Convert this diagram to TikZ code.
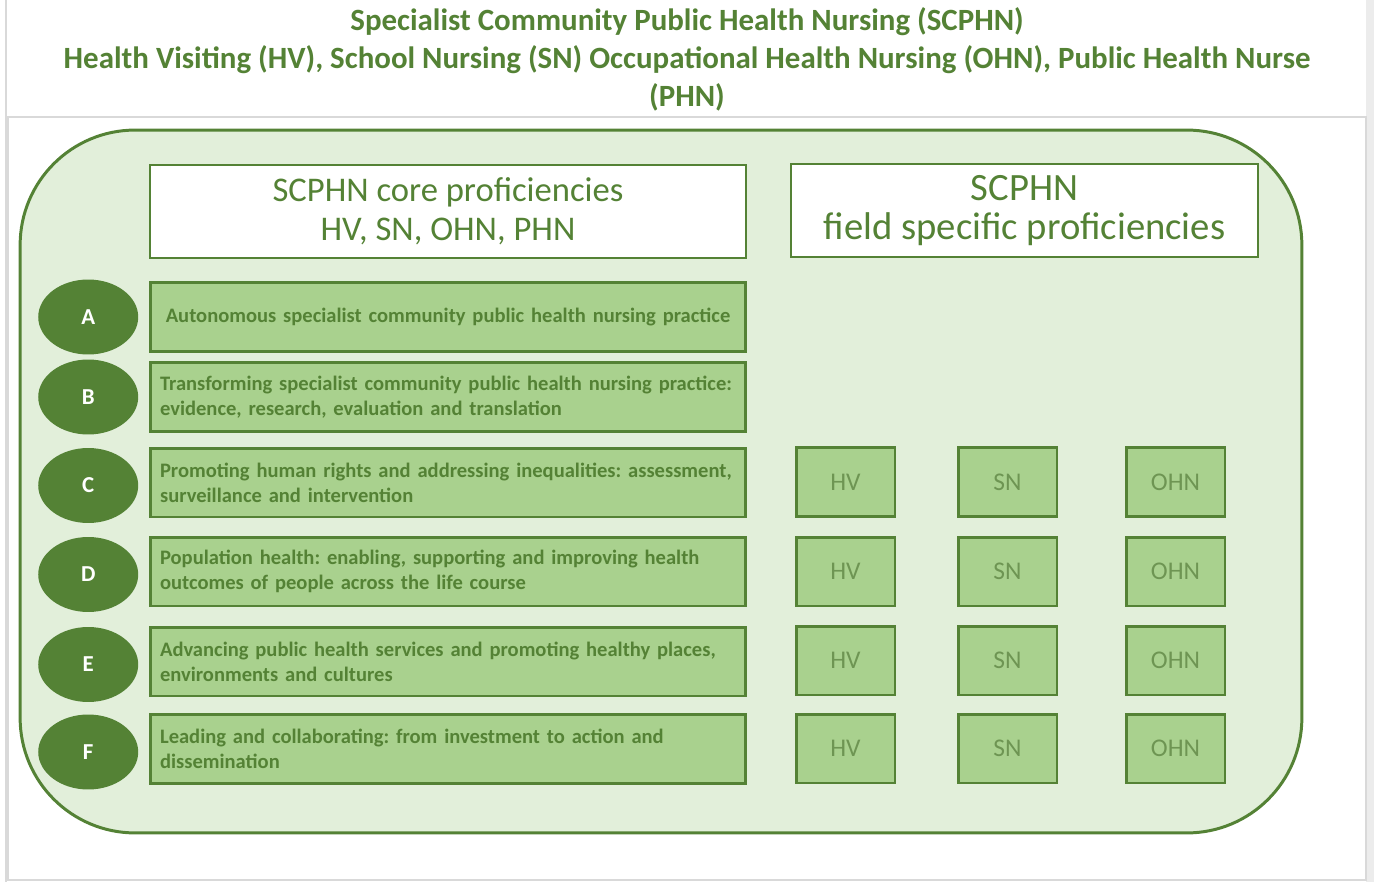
\documentclass[tikz,border=0pt]{standalone}
\usepackage{fontspec}
\setmainfont{Carlito}
\usetikzlibrary{positioning,shapes.geometric}
\definecolor{scphngreen}{RGB}{84,130,53}
\definecolor{panelgreen}{RGB}{226,239,218}
\definecolor{rowgreen}{RGB}{169,209,142}
\definecolor{framegray}{RGB}{217,217,217}
\frenchspacing

\begin{document}
\begin{tikzpicture}[x=0.02cm, y=-0.02cm,
    panel/.style={draw=scphngreen, fill=panelgreen, line width=1.7pt, rounded corners=2.3cm, minimum width=25.64cm, minimum height=14.06cm},
    head/.style={draw=scphngreen, fill=white, line width=1.5pt, minimum height=1.86cm, align=center, text=scphngreen, font=\fontsize{#1}{22.2}\selectfont},
    row/.style={draw=scphngreen, fill=rowgreen, line width=1.7pt, minimum width=11.92cm, minimum height=1.38cm, text width=11.52cm, align=left, text=scphngreen, font=\bfseries\fontsize{11.7}{14.2}\selectfont},
    letter/.style={ellipse, fill=scphngreen, minimum width=2cm, minimum height=1.5cm, text=white, font=\bfseries\fontsize{13}{15}\selectfont},
    field/.style={draw=scphngreen, fill=rowgreen, line width=1.7pt, minimum width=1.98cm, minimum height=1.38cm, text=scphngreen!85!white, font=\fontsize{14.5}{17}\selectfont},
]
\useasboundingbox (0,0) rectangle (1374,882);
\draw[framegray, line width=1pt] (6,0) -- (6,882);
\fill[framegray!50] (1366,0) rectangle (1374,882);
\draw[framegray, line width=1pt] (8,117) rectangle (1366,880);

\node[align=center, text=scphngreen, font=\bfseries\fontsize{17.6}{21.6}\selectfont] (title) at (687,59)
  {Specialist Community Public Health Nursing (SCPHN)\\
   Health Visiting (HV), School Nursing (SN) Occupational Health Nursing (OHN), Public Health Nurse\\
   (PHN)};

\node[panel] (panel) at (661,481.5) {};

\node[head=19.7, minimum width=11.92cm] (core) at (448,211.5) {SCPHN core proficiencies\\HV, SN, OHN, PHN};
\node[head=22, minimum width=9.34cm] (spec) at (1024.5,210.5) {SCPHN\\field specific proficiencies};

\node[row, align=center] (rowA) at (448,317) {Autonomous specialist community public health nursing practice};
\node[row] (rowB) at (448,397) {Transforming specialist community public health nursing practice:\\evidence, research, evaluation and translation};
\node[row] (rowC) at (448,482.5) {Promoting human rights and addressing inequalities: assessment,\\surveillance and intervention};
\node[row] (rowD) at (448,571.5) {Population health: enabling, supporting and improving health\\outcomes of people across the life course};
\node[row] (rowE) at (448,661.5) {Advancing public health services and promoting healthy places,\\environments and cultures};
\node[row] (rowF) at (448,749) {Leading and collaborating: from investment to action and\\dissemination};

\node[letter, left=0.2cm of rowA] (letA) {A};
\node[letter, left=0.2cm of rowB] (letB) {B};
\node[letter, left=0.2cm of rowC, yshift=-0.06cm] (letC) {C};
\node[letter, left=0.2cm of rowD, yshift=-0.06cm] (letD) {D};
\node[letter, left=0.2cm of rowE, yshift=-0.06cm] (letE) {E};
\node[letter, left=0.2cm of rowF, yshift=-0.06cm] (letF) {F};

\foreach \r/\y in {C/482,D/571.5,E/660.5,F/748.5} {
  \node[field] (hv\r) at (845.5,\y) {HV};
  \node[field] (sn\r) at (1007.5,\y) {SN};
  \node[field] (ohn\r) at (1175.5,\y) {OHN};
}
\end{tikzpicture}
\end{document}
